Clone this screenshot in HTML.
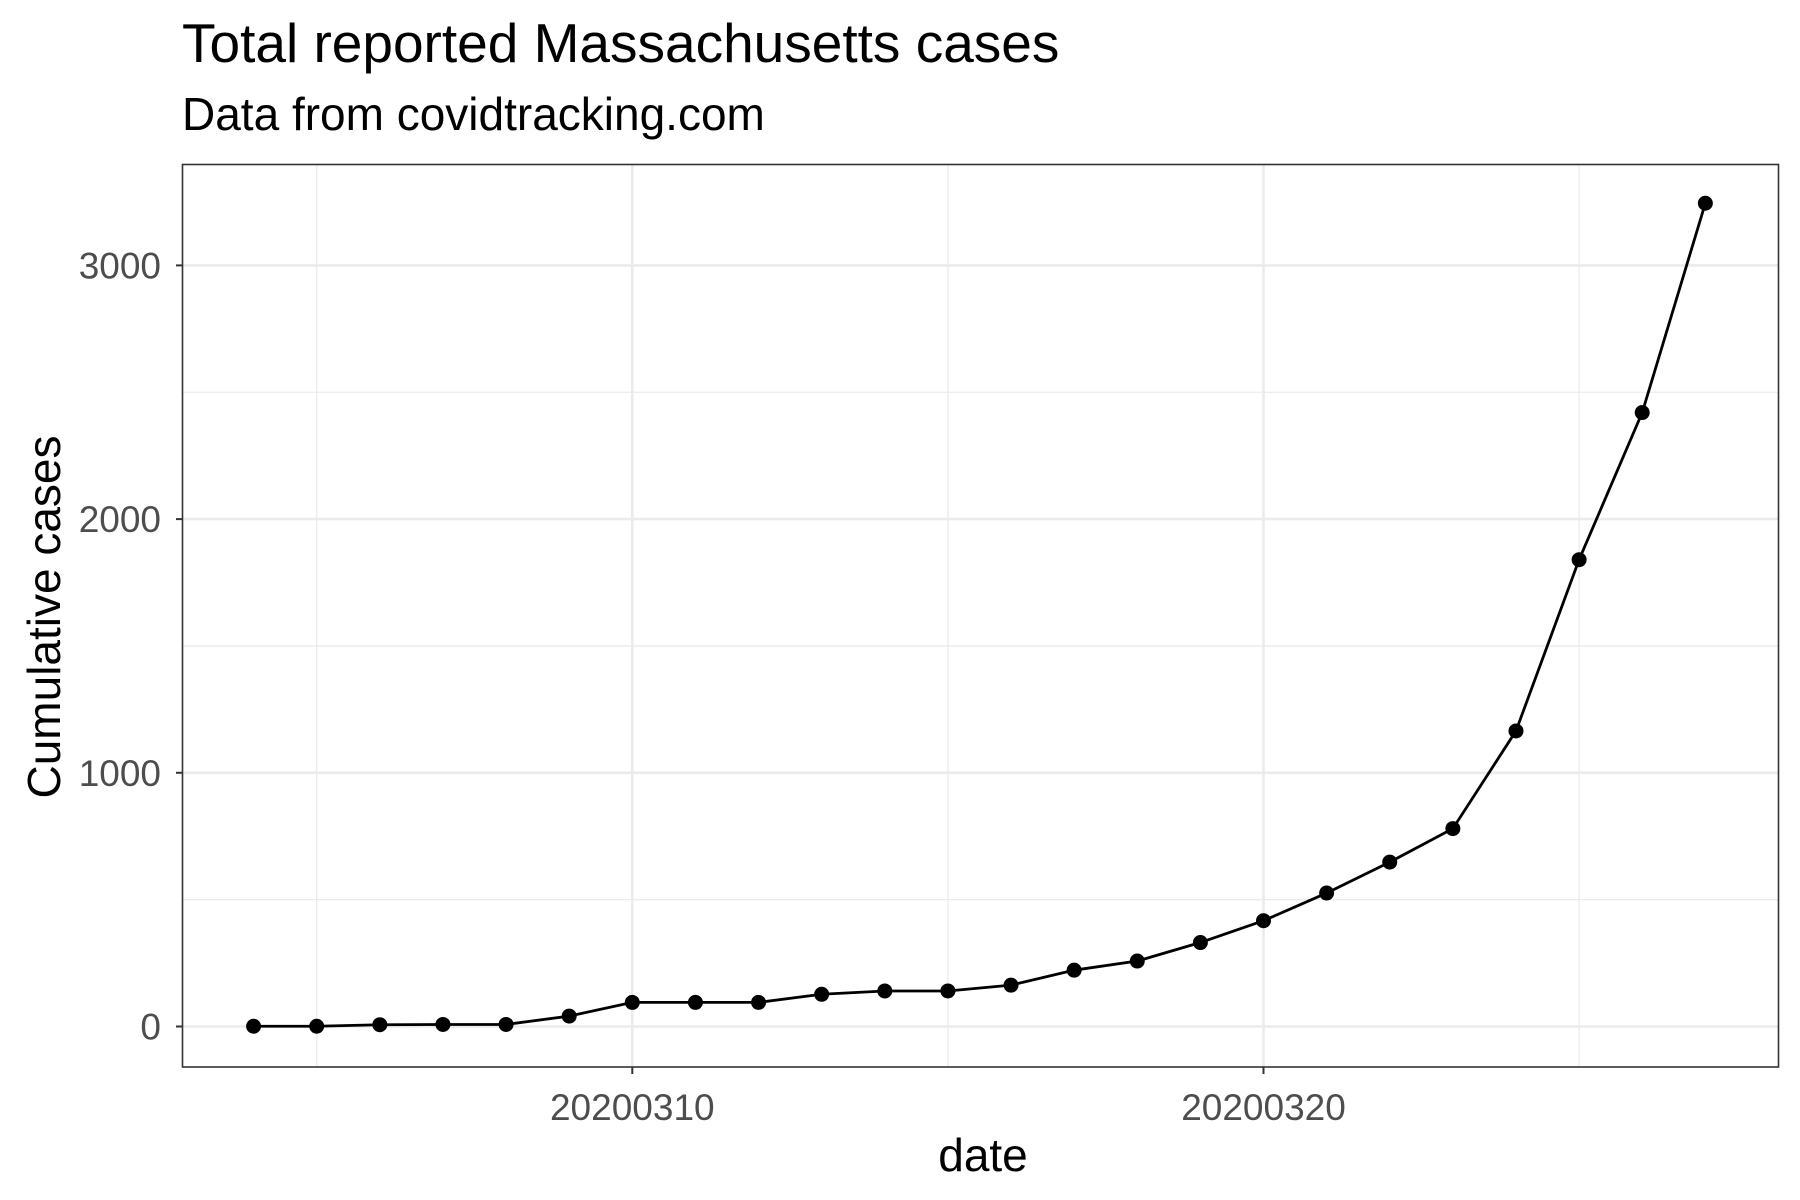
<!DOCTYPE html>
<html><head><meta charset="utf-8"><style>
html,body{margin:0;padding:0;background:#fff;}
svg{display:block;font-family:"Liberation Sans",Arial,sans-serif;}
</style></head><body>
<svg id="chart" width="1800" height="1200" viewBox="0 0 1800 1200">
<rect x="0" y="0" width="1800" height="1200" fill="#fff"/>
<text x="182" y="62" font-size="55" fill="#000">Total reported Massachusetts cases</text>
<text x="182" y="130" font-size="46" fill="#000">Data from covidtracking.com</text>
<g id="grid"></g>
<g id="series"></g>
<rect x="182.5" y="164.5" width="1596" height="902.5" fill="none" stroke="#333" stroke-width="1.6"/>
<g id="axes"></g>
<text x="983" y="1171" font-size="46" text-anchor="middle" fill="#000">date</text>
<text transform="translate(60,617) rotate(-90)" font-size="46" text-anchor="middle" fill="#000">Cumulative cases</text>
</svg>
<script>
const days = [4,5,6,7,8,9,10,11,12,13,14,15,16,17,18,19,20,21,22,23,24,25,26,27];
const cases = [1,1,7,8,8,41,95,95,95,127,140,140,163,222,258,331,417,526,648,780,1165,1840,2420,3245];
const yTicks = [0,1000,2000,3000];
const yMinor = [500,1500,2500];
const xTickDays = [10,20];
const xTickLabels = ["20200310","20200320"];
const xMinorDays = [5,15,25];

const NS="http://www.w3.org/2000/svg";
function X(d){return 632.3+(d-10)*63.12;}
function Y(v){return 1026.5-v*0.2537;}
function mk(tag,attrs,parent){const e=document.createElementNS(NS,tag);for(const k in attrs)e.setAttribute(k,attrs[k]);parent.appendChild(e);return e;}
const grid=document.getElementById('grid'),series=document.getElementById('series'),axes=document.getElementById('axes');
const L=183,R=1778,T=165,B=1067;
yMinor.forEach(v=>{const e=mk('line',{x1:L,x2:R,y1:Y(v),y2:Y(v),stroke:'#ebebeb','stroke-width':1.3},grid);

});
xMinorDays.forEach(d=>{const e=mk('line',{x1:X(d),x2:X(d),y1:T,y2:B,stroke:'#ebebeb','stroke-width':1.3},grid);

});
yTicks.forEach(v=>{const e=mk('line',{x1:L,x2:R,y1:Y(v),y2:Y(v),stroke:'#ebebeb','stroke-width':2.6},grid);


const t=mk('line',{x1:L-7,x2:L,y1:Y(v),y2:Y(v),stroke:'#333','stroke-width':2},axes);


const l=mk('text',{x:L-22,y:Y(v)+13,'font-size':37,'text-anchor':'end',fill:'#4d4d4d'},axes);l.textContent=v;

});
xTickDays.forEach((d,i)=>{const e=mk('line',{x1:X(d),x2:X(d),y1:T,y2:B,stroke:'#ebebeb','stroke-width':2.6},grid);


const t=mk('line',{x1:X(d),x2:X(d),y1:B,y2:B+7,stroke:'#333','stroke-width':2},axes);


const l=mk('text',{x:X(d),y:1120,'font-size':37,'text-anchor':'middle',fill:'#4d4d4d'},axes);l.textContent=xTickLabels[i];

});
const pts=days.map((d,i)=>X(d)+','+Y(cases[i])).join(' ');
const pl=mk('polyline',{points:pts,fill:'none',stroke:'#000','stroke-width':2.8},series);


days.forEach((d,i)=>{const c=mk('circle',{cx:X(d),cy:Y(cases[i]),r:7.5,fill:'#000'},series);

});
</script>
</body></html>
